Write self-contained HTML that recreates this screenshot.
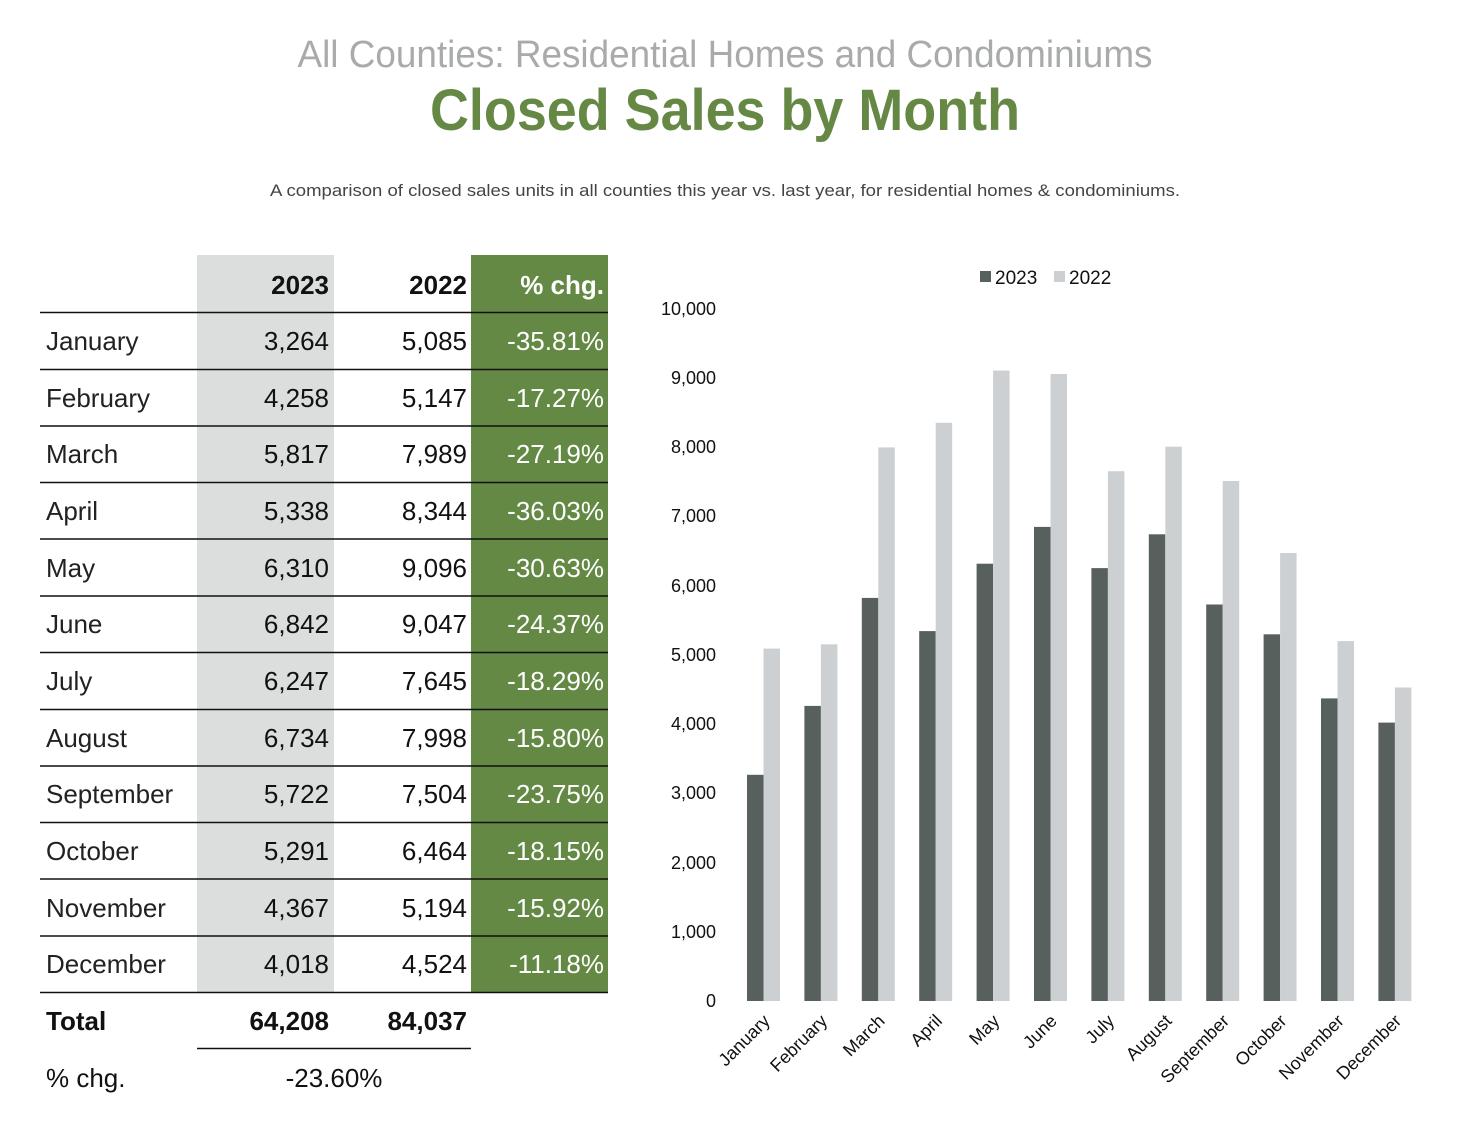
<!DOCTYPE html>
<html><head><meta charset="utf-8"><style>
html,body{margin:0;padding:0;background:#fff;}
svg{display:block;font-family:"Liberation Sans",sans-serif;}
</style></head><body>
<svg width="1468" height="1142" viewBox="0 0 1468 1142" xmlns="http://www.w3.org/2000/svg">
<rect width="1468" height="1142" fill="#fff"/>
<text x="725" y="67" text-anchor="middle" font-size="38" fill="#a9abab" textLength="855" lengthAdjust="spacingAndGlyphs">All Counties: Residential Homes and Condominiums</text>
<text x="725" y="130" text-anchor="middle" font-size="58" font-weight="bold" fill="#668845" textLength="590" lengthAdjust="spacingAndGlyphs">Closed Sales by Month</text>
<text x="725" y="196" text-anchor="middle" font-size="17" fill="#444" textLength="910" lengthAdjust="spacingAndGlyphs">A comparison of closed sales units in all counties this year vs. last year, for residential homes &amp; condominiums.</text>

<rect x="197" y="255" width="137" height="737" fill="#dcdddd"/>
<rect x="471" y="255" width="137" height="737" fill="#648945"/>
<g font-size="26" font-weight="bold">
<text x="329" y="294" text-anchor="end" fill="#111">2023</text>
<text x="467" y="294" text-anchor="end" fill="#111">2022</text>
<text x="604" y="294" text-anchor="end" fill="#fff">% chg.</text>
</g>
<g stroke="#111" stroke-width="1.5">
<line x1="40" x2="608" y1="312.5" y2="312.5"/><line x1="40" x2="608" y1="369.5" y2="369.5"/>
<line x1="40" x2="608" y1="426" y2="426"/><line x1="40" x2="608" y1="482.5" y2="482.5"/>
<line x1="40" x2="608" y1="539" y2="539"/><line x1="40" x2="608" y1="596" y2="596"/>
<line x1="40" x2="608" y1="652.5" y2="652.5"/><line x1="40" x2="608" y1="709.5" y2="709.5"/>
<line x1="40" x2="608" y1="766" y2="766"/><line x1="40" x2="608" y1="822.5" y2="822.5"/>
<line x1="40" x2="608" y1="879" y2="879"/><line x1="40" x2="608" y1="936" y2="936"/>
<line x1="40" x2="608" y1="992.5" y2="992.5"/><line x1="197" x2="471" y1="1048.5" y2="1048.5"/>
</g>
<g font-size="26">
<g fill="#222">
<text x="46" y="350">January</text><text x="46" y="407">February</text><text x="46" y="463">March</text>
<text x="46" y="520">April</text><text x="46" y="577">May</text><text x="46" y="633">June</text>
<text x="46" y="690">July</text><text x="46" y="747">August</text><text x="46" y="803">September</text>
<text x="46" y="860">October</text><text x="46" y="917">November</text><text x="46" y="973">December</text>
</g>
<g fill="#111" text-anchor="end">
<text x="329" y="350">3,264</text><text x="329" y="407">4,258</text><text x="329" y="463">5,817</text>
<text x="329" y="520">5,338</text><text x="329" y="577">6,310</text><text x="329" y="633">6,842</text>
<text x="329" y="690">6,247</text><text x="329" y="747">6,734</text><text x="329" y="803">5,722</text>
<text x="329" y="860">5,291</text><text x="329" y="917">4,367</text><text x="329" y="973">4,018</text>
<text x="467" y="350">5,085</text><text x="467" y="407">5,147</text><text x="467" y="463">7,989</text>
<text x="467" y="520">8,344</text><text x="467" y="577">9,096</text><text x="467" y="633">9,047</text>
<text x="467" y="690">7,645</text><text x="467" y="747">7,998</text><text x="467" y="803">7,504</text>
<text x="467" y="860">6,464</text><text x="467" y="917">5,194</text><text x="467" y="973">4,524</text>
</g>
<g fill="#fff" text-anchor="end">
<text x="604" y="350">-35.81%</text><text x="604" y="407">-17.27%</text><text x="604" y="463">-27.19%</text>
<text x="604" y="520">-36.03%</text><text x="604" y="577">-30.63%</text><text x="604" y="633">-24.37%</text>
<text x="604" y="690">-18.29%</text><text x="604" y="747">-15.80%</text><text x="604" y="803">-23.75%</text>
<text x="604" y="860">-18.15%</text><text x="604" y="917">-15.92%</text><text x="604" y="973">-11.18%</text>
</g>
<g font-weight="bold" fill="#111">
<text x="46" y="1030">Total</text>
<text x="329" y="1030" text-anchor="end">64,208</text>
<text x="467" y="1030" text-anchor="end">84,037</text>
</g>
<text x="46" y="1087" fill="#111">% chg.</text>
<text x="334" y="1087" text-anchor="middle" fill="#111">-23.60%</text>
</g>

<rect x="980" y="271" width="11" height="11" fill="#57605c"/>
<text x="995" y="284" font-size="19" fill="#111">2023</text>
<rect x="1054" y="271" width="11" height="11" fill="#cdd0d2"/>
<text x="1069" y="284" font-size="19" fill="#111">2022</text>
<g font-size="18" fill="#111" text-anchor="end">
<text x="716" y="1007">0</text><text x="716" y="938">1,000</text><text x="716" y="869">2,000</text>
<text x="716" y="799">3,000</text><text x="716" y="730">4,000</text><text x="716" y="661">5,000</text>
<text x="716" y="592">6,000</text><text x="716" y="522">7,000</text><text x="716" y="453">8,000</text>
<text x="716" y="384">9,000</text><text x="716" y="315">10,000</text>
</g>
<g fill="#57605c">
<rect x="747" y="774.8" width="16.5" height="226.2"/>
<rect x="804.4" y="705.9" width="16.5" height="295.1"/>
<rect x="861.8" y="597.9" width="16.5" height="403.1"/>
<rect x="919.2" y="631.1" width="16.5" height="369.9"/>
<rect x="976.6" y="563.7" width="16.5" height="437.3"/>
<rect x="1034" y="526.9" width="16.5" height="474.1"/>
<rect x="1091.4" y="568.1" width="16.5" height="432.9"/>
<rect x="1148.8" y="534.3" width="16.5" height="466.7"/>
<rect x="1206.2" y="604.5" width="16.5" height="396.5"/>
<rect x="1263.6" y="634.3" width="16.5" height="366.7"/>
<rect x="1321" y="698.4" width="16.5" height="302.6"/>
<rect x="1378.4" y="722.6" width="16.5" height="278.4"/>
</g>
<g fill="#cdd0d2">
<rect x="763.5" y="648.6" width="16.5" height="352.4"/>
<rect x="820.9" y="644.3" width="16.5" height="356.7"/>
<rect x="878.3" y="447.4" width="16.5" height="553.6"/>
<rect x="935.7" y="422.8" width="16.5" height="578.2"/>
<rect x="993.1" y="370.6" width="16.5" height="630.4"/>
<rect x="1050.5" y="374.0" width="16.5" height="627.0"/>
<rect x="1107.9" y="471.2" width="16.5" height="529.8"/>
<rect x="1165.3" y="446.7" width="16.5" height="554.3"/>
<rect x="1222.7" y="481.0" width="16.5" height="520.0"/>
<rect x="1280.1" y="553.0" width="16.5" height="448.0"/>
<rect x="1337.5" y="641.1" width="16.5" height="359.9"/>
<rect x="1394.9" y="687.5" width="16.5" height="313.5"/>
</g>
<g font-size="18" fill="#111" text-anchor="end">
<text transform="translate(771,1022) rotate(-45)">January</text>
<text transform="translate(828.4,1022) rotate(-45)">February</text>
<text transform="translate(885.8,1022) rotate(-45)">March</text>
<text transform="translate(943.2,1022) rotate(-45)">April</text>
<text transform="translate(1000.6,1022) rotate(-45)">May</text>
<text transform="translate(1058,1022) rotate(-45)">June</text>
<text transform="translate(1115.4,1022) rotate(-45)">July</text>
<text transform="translate(1172.8,1022) rotate(-45)">August</text>
<text transform="translate(1230.2,1022) rotate(-45)">September</text>
<text transform="translate(1287.6,1022) rotate(-45)">October</text>
<text transform="translate(1345,1022) rotate(-45)">November</text>
<text transform="translate(1402.4,1022) rotate(-45)">December</text>
</g>
</svg>
</body></html>
